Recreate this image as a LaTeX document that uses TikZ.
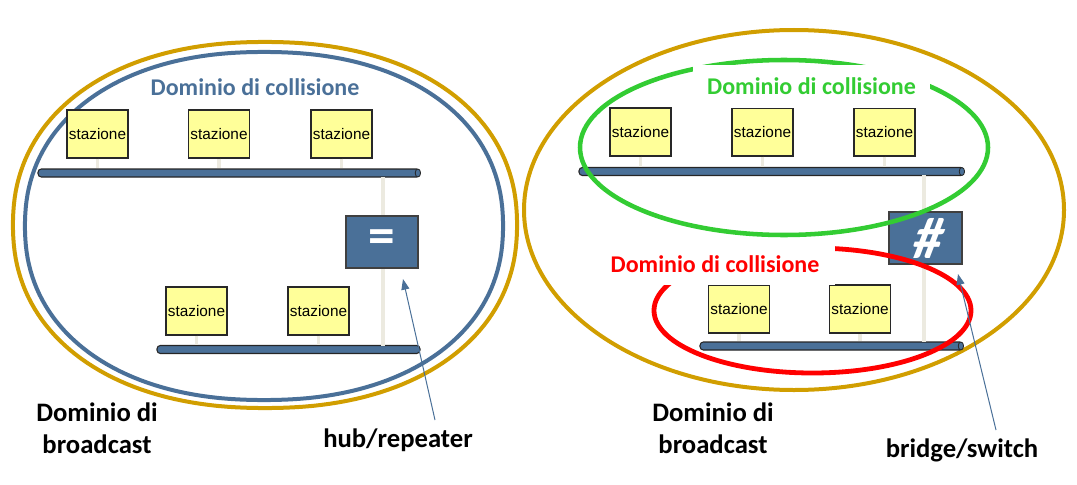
\documentclass[tikz,border=0pt]{standalone}
\usepackage{fontspec}
\setmainfont{Carlito}
\newfontfamily\arialf{Liberation Sans}
\newfontfamily\hashfont[FakeSlant=0.22]{Carlito Bold}
\usetikzlibrary{arrows.meta}
\definecolor{gold}{RGB}{209,158,0}
\definecolor{netblue}{RGB}{74,112,152}
\definecolor{cgreen}{RGB}{51,204,51}
\definecolor{cred}{RGB}{255,0,0}
\definecolor{styellow}{RGB}{255,255,153}
\definecolor{stemgray}{RGB}{236,234,224}
\definecolor{boxedge}{RGB}{40,40,40}
\tikzset{
 station/.style={draw=boxedge, line width=0.8pt, fill=styellow, minimum width=45.75pt, minimum height=36pt, inner sep=0pt, font=\arialf\fontsize{11.5}{12}\selectfont},
 stemline/.style={draw=stemgray, line width=2.3pt},
 busbar/.style={draw=black!85, line width=0.8pt, fill=netblue, rounded corners=2.5pt, inner sep=0pt, minimum height=6pt},
 buscap/.style={draw=black!85, line width=0.6pt, fill=netblue},
 devbox/.style={draw=black!75, line width=1pt, fill=netblue, minimum width=54pt, minimum height=39pt, inner sep=0pt, text=white, font=\bfseries\fontsize{40}{40}\selectfont},
 domlabel/.style={font=\bfseries\fontsize{18}{20}\selectfont, inner sep=0pt},
 bclabel/.style={font=\bfseries\fontsize{20}{24}\selectfont, align=center, inner sep=0pt},
 ptr/.style={draw=netblue, line width=0.75pt, -{Triangle[length=8pt,width=6pt]}},
 domring/.style={line width=3pt},
}
\begin{document}
\begin{tikzpicture}[x=0.75pt, y=-0.75pt]
\useasboundingbox (0,0) rectangle (1077,485);
% ---------------- left ----------------
\draw[domring, gold, line join=round] plot[domain=1:361, samples=181, variable=\t]
  ({265+252*sign(cos(\t))*pow(abs(cos(\t)),2/2.2)}, {225+183*sign(sin(\t))*pow(abs(sin(\t)),2/2.2)}) -- cycle;
\draw[domring, netblue, line join=round] plot[domain=1:361, samples=181, variable=\t]
  ({264+239*sign(cos(\t))*pow(abs(cos(\t)),2/2.2)}, {226+174*sign(sin(\t))*pow(abs(sin(\t)),2/2.2)}) -- cycle;
\node[domlabel, text=netblue] (lcoll) at (255,87) {Dominio di collisione};
\node[busbar, minimum width=286.5pt] (bus1) at (229,173) {};
\node[busbar, minimum width=197.25pt] (bus2) at (288.5,349.5) {};
\draw[buscap] ([xshift=-2pt]bus1.east) ellipse (2pt and 3pt);
\node[station] (s1) at (97.5,134) {stazione};
\node[station] (s2) at (219,134) {stazione};
\node[station] (s3) at (341.5,134) {stazione};
\node[station] (s4) at (196.5,311) {stazione};
\node[station] (s5) at (318.5,311) {stazione};
\draw[stemline] (s1.south) -- (s1.south |- bus1.north);
\draw[stemline] (s2.south) -- (s2.south |- bus1.north);
\draw[stemline] (s3.south) -- (s3.south |- bus1.north);
\draw[stemline] (s4.south) -- (s4.south |- bus2.north);
\draw[stemline] (s5.south) -- (s5.south |- bus2.north);
\draw[stemline] (383,177) coordinate (hubtop) -- (383,346) coordinate (hubbot);
\node[devbox] (hub) at (382,242) {=};
\node[bclabel] (lbc) at (97,428) {Dominio di\\broadcast};
\node[bclabel] (hublbl) at (398,440) {hub/repeater};
\coordinate (hubtail) at (435,420);
\coordinate (hubtip) at (403,279);
\draw[ptr] (hubtail) -- (hubtip);
% ---------------- right ----------------
\draw[domring, gold] (794,210) ellipse [x radius=270, y radius=180];
\node[busbar, minimum width=288.75pt] (bus3) at (771.5,171.5) {};
\node[busbar, minimum width=197.25pt] (bus4) at (831.5,346) {};
\draw[buscap] ([xshift=-2pt]bus3.east) ellipse (2pt and 3pt);
\draw[buscap] ([xshift=-2pt]bus4.east) ellipse (2pt and 3pt);
\node[station] (r1) at (640.5,132) {stazione};
\node[station] (r2) at (762.5,132) {stazione};
\node[station] (r3) at (884.5,132) {stazione};
\node[station] (r4) at (739,309) {stazione};
\node[station] (r5) at (860,309) {stazione};
\draw[stemline] (r1.south) -- (r1.south |- bus3.north);
\draw[stemline] (r2.south) -- (r2.south |- bus3.north);
\draw[stemline] (r3.south) -- (r3.south |- bus3.north);
\draw[stemline] (r4.south) -- (r4.south |- bus4.north);
\draw[stemline] (r5.south) -- (r5.south |- bus4.north);
\draw[stemline] (924,175) coordinate (swtop) -- (924,342) coordinate (swbot);
\node[devbox, minimum width=54.75pt, font=\hashfont\fontsize{44}{44}\selectfont] (sw) at (925.5,238) {\#};
\draw[domring, cgreen, line width=3.4pt] (784,147.5) ellipse [x radius=204, y radius=87.5];
\draw[domring, cred, line width=3.6pt] (812.5,310.5) ellipse [x radius=158.5, y radius=62.5];
\node[domlabel, text=cgreen, fill=white, minimum width=177.75pt, minimum height=31.5pt] (gcoll) at (811.5,86.5) {Dominio di collisione};
\node[domlabel, text=cred, fill=white, minimum width=180pt, minimum height=30pt] (rcoll) at (715,264.5) {Dominio di collisione};
\node[bclabel] (rbc) at (713,428) {Dominio di\\broadcast};
\node[bclabel] (swlbl) at (962,450) {bridge/switch};
\coordinate (swtail) at (996,430);
\coordinate (swtip) at (958,274);
\draw[ptr] (swtail) -- (swtip);
\end{tikzpicture}
\end{document}
